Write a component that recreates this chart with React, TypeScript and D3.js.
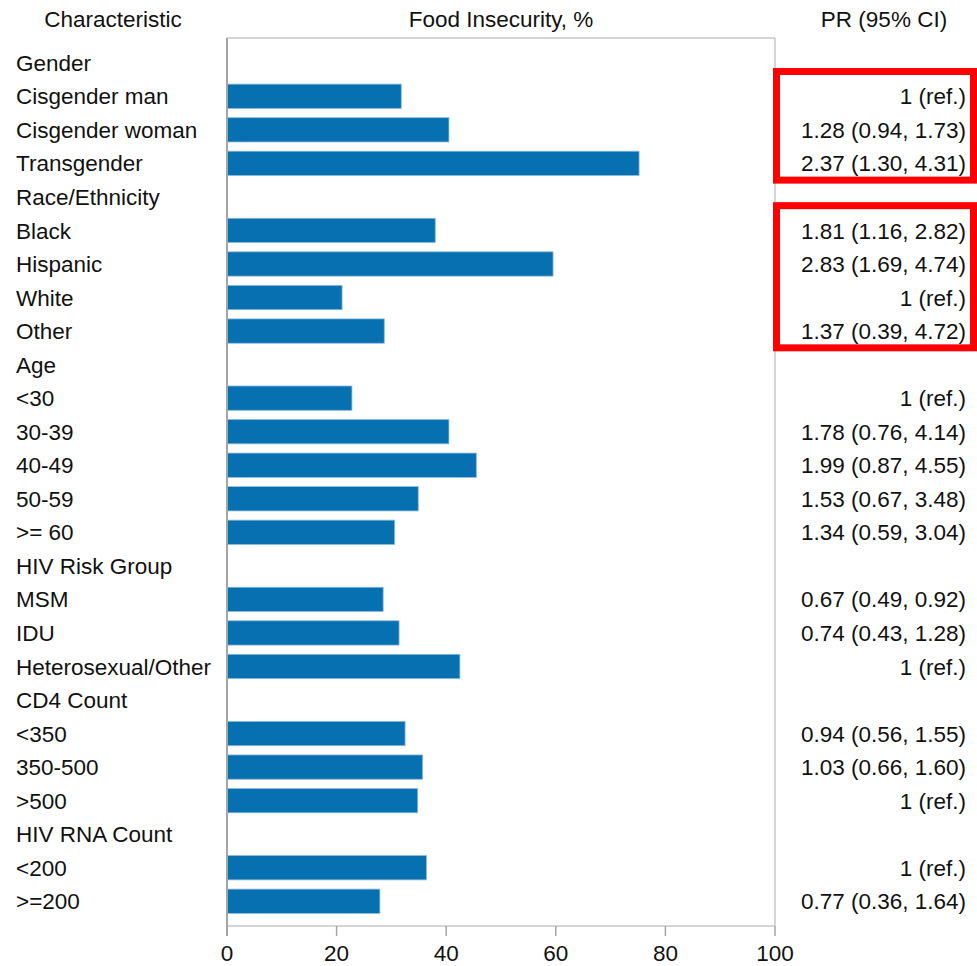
import React from "react";
import * as d3 from "d3";

const labels: string[] = [
  "Gender", "Cisgender man", "Cisgender woman", "Transgender",
  "Race/Ethnicity", "Black", "Hispanic", "White", "Other",
  "Age", "<30", "30-39", "40-49", "50-59", ">= 60",
  "HIV Risk Group", "MSM", "IDU", "Heterosexual/Other",
  "CD4 Count", "<350", "350-500", ">500",
  "HIV RNA Count", "<200", ">=200",
];

const values: (number | null)[] = [
  null, 31.8, 40.5, 75.2,
  null, 38.0, 59.5, 21.0, 28.7,
  null, 22.8, 40.5, 45.5, 34.9, 30.6,
  null, 28.5, 31.4, 42.5,
  null, 32.5, 35.7, 34.8,
  null, 36.4, 27.9,
];

const prLabels: string[] = [
  "", "1 (ref.)", "1.28 (0.94, 1.73)", "2.37 (1.30, 4.31)",
  "", "1.81 (1.16, 2.82)", "2.83 (1.69, 4.74)", "1 (ref.)", "1.37 (0.39, 4.72)",
  "", "1 (ref.)", "1.78 (0.76, 4.14)", "1.99 (0.87, 4.55)", "1.53 (0.67, 3.48)", "1.34 (0.59, 3.04)",
  "", "0.67 (0.49, 0.92)", "0.74 (0.43, 1.28)", "1 (ref.)",
  "", "0.94 (0.56, 1.55)", "1.03 (0.66, 1.60)", "1 (ref.)",
  "", "1 (ref.)", "0.77 (0.36, 1.64)",
];

const xTicks: number[] = [0, 20, 40, 60, 80, 100];

// highlighted groups: [first row index, last row index]
const highlightGroups: [number, number][] = [[1, 3], [5, 8]];

const headers = { characteristic: "Characteristic", value: "Food Insecurity, %", pr: "PR (95% CI)" };

export default function App() {
  const W = 977, H = 966;
  const left = 227, right = 775, top = 38, bottom = 926;
  const font = "'Liberation Sans', Arial, sans-serif";
  const fs = 22.5;

  const x = d3.scaleLinear().domain([0, 100]).range([left, right]);
  const idx = labels.map((_, i) => String(i));
  const y = d3.scaleBand<string>().domain(idx).range([top, bottom]).paddingInner(0.275).paddingOuter(0.375);
  const cy = (i: number) => (y(String(i)) as number) + y.bandwidth() / 2;
  const step = y.step();

  return (
    <svg width={W} height={H} style={{ position: "absolute", left: 0, top: 0, background: "#fff" }}
      fontFamily={font}>
      <rect x={0} y={0} width={W} height={H} fill="#fff" />
      {/* headers */}
      <text x={113} y={27} fontSize={fs} textAnchor="middle" fill="#111">{headers.characteristic}</text>
      <text x={(left + right) / 2} y={27} fontSize={fs} textAnchor="middle" fill="#111">{headers.value}</text>
      <text x={884} y={27} fontSize={fs} textAnchor="middle" fill="#111">{headers.pr}</text>

      {/* frame */}
      <line x1={left} x2={right} y1={top} y2={top} stroke="#c4c7ca" strokeWidth={1.5} />
      <line x1={right} x2={right} y1={top} y2={bottom} stroke="#c4c7ca" strokeWidth={1.5} />
      <line x1={left} x2={right} y1={bottom} y2={bottom} stroke="#c4c7ca" strokeWidth={1.5} />

      {/* bars */}
      {values.map((v, i) =>
        v == null ? null : (
          <rect key={i} x={x(0)} y={y(String(i)) as number} width={x(v) - x(0)} height={y.bandwidth()}
            fill="#0770b0" stroke="#8dbbe0" strokeWidth={0.8} />
        )
      )}
      <line x1={left} x2={left} y1={top} y2={bottom + 10} stroke="#a3a6a9" strokeWidth={2} />

      {/* x ticks */}
      {xTicks.map((t) => (
        <g key={t}>
          <line x1={x(t)} x2={x(t)} y1={bottom} y2={bottom + 10} stroke="#a3a6a9" strokeWidth={1.5} />
          <text x={x(t)} y={961} fontSize={fs} textAnchor="middle" fill="#111">{t}</text>
        </g>
      ))}

      {/* row labels */}
      {labels.map((l, i) => (
        <text key={i} x={16} y={cy(i)} dy="0.36em" fontSize={fs} fill="#111">{l}</text>
      ))}

      {/* PR labels */}
      {prLabels.map((p, i) =>
        p ? (
          <text key={i} x={966} y={cy(i)} dy="0.36em" fontSize={fs} textAnchor="end" fill="#111">{p}</text>
        ) : null
      )}

      {/* highlight boxes */}
      {highlightGroups.map(([a, b], k) => {
        const y0 = cy(a) - step / 2 - 8;
        const y1 = cy(b) + step / 2 + 0;
        return (
          <rect key={k} x={776.5} y={y0} width={973.5 - 776.5} height={y1 - y0}
            fill="none" stroke="#ff0000" strokeWidth={7} />
        );
      })}
    </svg>
  );
}
